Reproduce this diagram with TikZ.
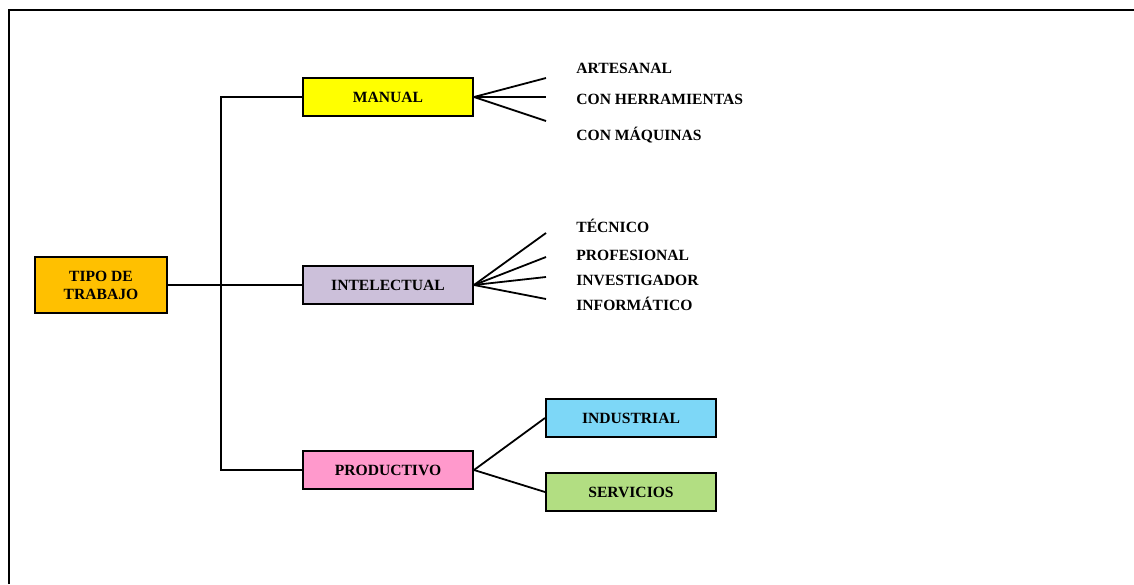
\documentclass[tikz,border=0pt]{standalone}
\usepackage{fontspec}
\setmainfont{Liberation Serif}
\definecolor{tipoorange}{RGB}{255, 192, 0}
\definecolor{manualyellow}{RGB}{255, 255, 0}
\definecolor{intelpurple}{RGB}{204, 192, 218}
\definecolor{prodpink}{RGB}{255, 153, 204}
\definecolor{indblue}{RGB}{125, 215, 247}
\definecolor{servgreen}{RGB}{178, 222, 130}
\usetikzlibrary{positioning}

\begin{document}
\begin{tikzpicture}[x=0.5pt, y=-0.5pt,
  box/.style={draw, line width=1pt, minimum width=85pt, minimum height=19pt, inner sep=0pt, font=\bfseries\fontsize{7.8}{9}\selectfont},
  item/.style={anchor=base west, inner sep=0pt, font=\bfseries\fontsize{7.8}{9}\selectfont},
  link/.style={line width=0.9pt}]
  \useasboundingbox (0,0) rectangle (1134,584);

  % Frame
  \draw[line width=1.3pt] (9,584) -- (9,10) -- (1134,10);

  % Root
  \node[box, fill=tipoorange, minimum width=66pt, minimum height=28pt, align=center] (tipo) at (101,285) {TIPO DE\\TRABAJO};

  % Branches
  \node[box, fill=manualyellow] (manual) at (388,97) {MANUAL};
  \node[box, fill=intelpurple] (intel) at (388,285) {INTELECTUAL};
  \node[box, fill=prodpink] (prod) at (388,470) {PRODUCTIVO};
  \coordinate (split) at (221,285);
  \draw[link] (tipo.east) -- (intel.west);
  \draw[link] (manual.west) -| (split) |- (prod.west);

  % Manual
  \node[item] (artesanal) at (576,73) {ARTESANAL};
  \node[item] (herram) at (576,104) {CON HERRAMIENTAS};
  \node[item] (maquinas) at (576,140) {CON MÁQUINAS};
  \coordinate (m1) at (546,78);
  \coordinate (m2) at (546,97);
  \coordinate (m3) at (546,121);
  \draw[link] (manual.east) -- (m1);
  \draw[link] (manual.east) -- (m2);
  \draw[link] (manual.east) -- (m3);

  % Intelectual
  \node[item] (tecnico) at (576,232) {TÉCNICO};
  \node[item] (profesional) at (576,260) {PROFESIONAL};
  \node[item] (investigador) at (576,285) {INVESTIGADOR};
  \node[item] (informatico) at (576,310) {INFORMÁTICO};
  \coordinate (i1) at (546,233);
  \coordinate (i2) at (546,257);
  \coordinate (i3) at (546,277);
  \coordinate (i4) at (546,299);
  \draw[link] (intel.east) -- (i1);
  \draw[link] (intel.east) -- (i2);
  \draw[link] (intel.east) -- (i3);
  \draw[link] (intel.east) -- (i4);

  % Productivo
  \node[box, fill=indblue] (industrial) at (631,418) {INDUSTRIAL};
  \node[box, fill=servgreen] (servicios) at (631,492) {SERVICIOS};
  \draw[link] (prod.east) -- (industrial.west);
  \draw[link] (prod.east) -- (servicios.west);
\end{tikzpicture}
\end{document}
